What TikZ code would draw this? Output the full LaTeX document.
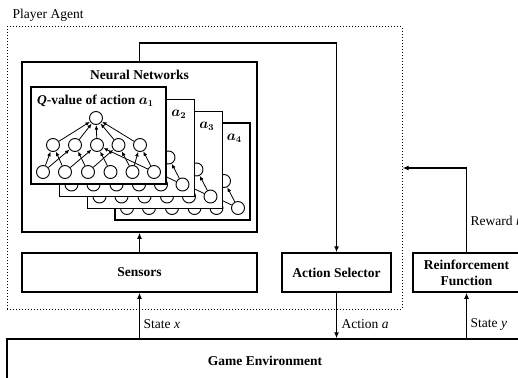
\documentclass[tikz,border=0pt]{standalone}
\usepackage{fontspec}
\setmainfont{Liberation Serif}
\usetikzlibrary{arrows.meta}
\tikzset{
  box/.style={draw, line width=1.5pt, fill=white, inner sep=0pt, font=\fontsize{13.5}{16}\selectfont\bfseries, align=center},
  arr/.style={line width=1.3pt, -{Latex[length=6pt,width=5pt]}},
  narr/.style={line width=0.8pt, -{Latex[length=4.5pt,width=3.8pt]}, shorten >=0.2pt},
  nn/.style={draw, line width=0.9pt, circle, minimum size=13pt, inner sep=0pt, fill=white},
  cardbox/.style={draw, line width=1.4pt, fill=white},
  lbl/.style={inner sep=0pt, font=\fontsize{13.5}{16}\selectfont},
  cardlbl/.style={inner sep=0pt, font=\fontsize{13.5}{16}\selectfont\bfseries\boldmath},
}
\newcommand\netcard[4]{%
\begin{scope}[shift={(#2,#3)}]
  \node[cardbox, minimum width=135pt, minimum height=97pt, inner sep=0pt] (card#1) at (98.5,135.5) {};
  \node[nn] (t#1) at (96,118) {};
  \foreach \i/\x in {1/53,2/75,3/97,4/118.5,5/140} \node[nn] (m#1-\i) at (\x,145) {};
  \foreach \i/\x in {1/43,2/65,3/88,4/110.5,5/132.5,6/154} \node[nn] (b#1-\i) at (\x,172) {};
  \foreach \i in {1,...,5} \draw[narr] (m#1-\i) -- (t#1);
  \foreach \a/\b in {1/1,2/1,1/2,3/2,2/3,4/3,6/3,3/4,5/4,5/5,6/5} \draw[narr] (b#1-\a) -- (m#1-\b);
  #4
\end{scope}}
\begin{document}
\begin{tikzpicture}[x=1pt,y=-1pt]
\useasboundingbox (0,0) rectangle (518,377);
\clip (0,0) rectangle (518,377);
% player agent
\node[lbl, anchor=west] (pa) at (12.5,15) {Player Agent};
\node[draw, dotted, line width=1pt, minimum width=395pt, minimum height=282pt, inner sep=0pt] (agent) at (204.5,168) {};
% neural network box
\node[box, minimum width=235pt, minimum height=170pt] (nn) at (139.5,147) {};
\node[lbl, font=\fontsize{13.5}{16}\selectfont\bfseries] (nntitle) at (139.5,75) {Neural Networks};
% stacked cards
\netcard{4}{84}{36}{\node[cardlbl, anchor=east] (l4) at (158,102) {$a_4$};}
\netcard{3}{56.5}{24.5}{\node[cardlbl, anchor=east] (l3) at (158,102) {$a_3$};}
\netcard{2}{28.5}{12.5}{\node[cardlbl, anchor=east] (l2) at (158,102) {$a_2$};}
\netcard{1}{0}{0}{\node[cardlbl] (l1) at (95.5,100.5) {\textit{Q}-value of action $a_1$};}
% bottom boxes
\node[box, minimum width=235pt, minimum height=39pt] (sens) at (139.5,272.5) {Sensors};
\node[box, minimum width=109pt, minimum height=39pt] (as) at (336.5,272.5) {Action Selector};
\node[box, minimum width=107pt, minimum height=39pt] (rf) at (466.5,272.5) {Reinforcement\\Function};
\node[box, minimum width=516pt, minimum height=44pt] (ge) at (265,361) {Game Environment};
% connectors
\draw[arr] (sens.north) -- (nn.south);
\coordinate (up) at (139.5,43);
\draw[arr] (nn.north) -- (up) -| (as.north);
\draw[arr] (ge.north -| sens.south) -- (sens.south);
\draw[arr] (as.south) -- (as.south |- ge.north);
\draw[arr] (ge.north -| rf.south) -- (rf.south);
\coordinate (rw) at (466.5,168);
\draw[arr] (rf.north) -- (rw) -- (rw -| agent.east);
% labels
\node[lbl, anchor=west] (sx) at (143.5,324) {State \textit{x}};
\node[lbl, anchor=west] (aa) at (341.5,324) {Action \textit{a}};
\node[lbl, anchor=west] (sy) at (470.5,324) {State \textit{y}};
\node[lbl, anchor=west] (rr) at (470.5,221) {Reward \textit{r}};
\end{tikzpicture}
\end{document}
